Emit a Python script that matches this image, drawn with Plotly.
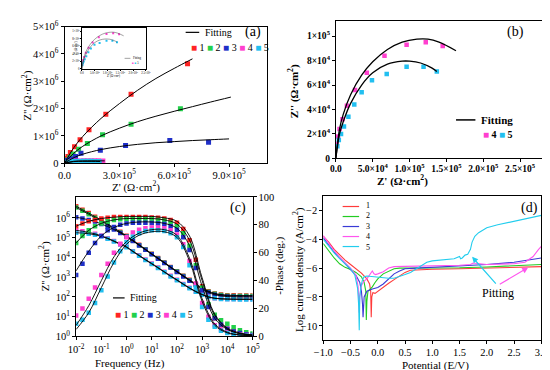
import plotly.graph_objects as go

W, H = 550, 370
FONT = "Liberation Serif"
RED, GREEN, BLUE, MAG, CYAN = "#ff2424", "#22d04a", "#1f2fc8", "#ff3fcf", "#22bff0"
LRED, LGREEN, LBLUE, LMAG, LCYAN = "#ff3b3b", "#22cc22", "#3a3ad6", "#ff55ee", "#22cdee"

# ---------------- (a) Nyquist ----------------
a1_x = [0.05e5, 0.12e5, 0.19e5, 0.32e5, 0.55e5, 0.85e5, 1.34e5, 2.26e5, 3.64e5, 6.73e5]
a1_y = [0.07e6, 0.17e6, 0.25e6, 0.39e6, 0.60e6, 0.86e6, 1.22e6, 1.79e6, 2.52e6, 3.64e6]
a2_x = [0.12e5, 0.29e5, 0.47e5, 0.77e5, 1.25e5, 2.08e5, 3.64e5, 6.34e5]
a2_y = [0.12e6, 0.22e6, 0.34e6, 0.51e6, 0.72e6, 1.04e6, 1.43e6, 1.99e6]
a3_x = [0.16e5, 0.33e5, 0.60e5, 0.90e5, 1.96e5, 3.34e5, 5.76e5, 7.88e5]
a3_y = [0.10e6, 0.16e6, 0.25e6, 0.36e6, 0.47e6, 0.65e6, 0.83e6, 0.77e6]
a4_x = [0.10e5, 0.25e5, 0.45e5, 0.65e5, 0.85e5, 1.05e5, 1.25e5, 1.45e5, 1.65e5, 1.85e5, 2.10e5]
a4_y = [0.03e6, 0.05e6, 0.07e6, 0.08e6, 0.085e6, 0.09e6, 0.09e6, 0.09e6, 0.09e6, 0.088e6, 0.085e6]
a5_x = [0.10e5, 0.30e5, 0.50e5, 0.70e5, 0.90e5, 1.10e5, 1.30e5, 1.50e5, 1.70e5, 1.90e5]
a5_y = [0.03e6, 0.05e6, 0.06e6, 0.065e6, 0.07e6, 0.07e6, 0.07e6, 0.068e6, 0.065e6, 0.06e6]
a1_fx = [0, 0.5e5, 1.0e5, 2.0e5, 3.0e5, 4.0e5, 5.0e5, 6.0e5, 7.0e5]
a1_fy = [0, 0.56e6, 0.98e6, 1.64e6, 2.18e6, 2.67e6, 3.10e6, 3.47e6, 3.82e6]
a2_fx = [0, 0.5e5, 1.0e5, 2.0e5, 3.0e5, 4.0e5, 5.0e5, 6.0e5, 7.0e5, 8.0e5, 9.1e5]
a2_fy = [0, 0.36e6, 0.62e6, 1.00e6, 1.28e6, 1.52e6, 1.72e6, 1.90e6, 2.07e6, 2.24e6, 2.42e6]
a3_fx = [0, 0.5e5, 1.0e5, 2.0e5, 3.0e5, 4.0e5, 5.0e5, 6.0e5, 7.0e5, 8.0e5, 9.0e5]
a3_fy = [0, 0.20e6, 0.33e6, 0.50e6, 0.61e6, 0.69e6, 0.75e6, 0.79e6, 0.83e6, 0.86e6, 0.89e6]
a4_fx = [0, 0.5e5, 1.0e5, 1.5e5, 2.2e5]
a4_fy = [0, 0.07e6, 0.085e6, 0.088e6, 0.085e6]
a5_fx = [0, 0.5e5, 1.0e5, 1.5e5, 1.95e5]
a5_fy = [0, 0.058e6, 0.068e6, 0.068e6, 0.062e6]
a_xticks = [0, 3e5, 6e5, 9e5]
a_xtext = ["0.0", "3.0×10<sup>5</sup>", "6.0×10<sup>5</sup>", "9.0×10<sup>5</sup>"]
a_yticks = [0, 1e6, 2e6, 3e6, 4e6, 5e6]
a_ytext = ["0", "1×10<sup>6</sup>", "2×10<sup>6</sup>", "3×10<sup>6</sup>", "4×10<sup>6</sup>", "5×10<sup>6</sup>"]

# ---------------- (b) Nyquist samples 4,5 ----------------
b4_x = [1e3, 3e3, 5e3, 9e3, 15e3, 26e3, 42e3, 66e3, 96e3, 122e3, 145e3]
b4_y = [12e3, 18e3, 24e3, 32e3, 43e3, 56e3, 70e3, 84e3, 93e3, 95e3, 92e3]
b5_x = [2e3, 4e3, 7e3, 11e3, 17e3, 25e3, 35e3, 49e3, 69e3, 96e3, 119e3, 137e3]
b5_y = [10e3, 15e3, 20e3, 26e3, 34e3, 44e3, 54e3, 64e3, 69e3, 75e3, 75e3, 71e3]
b4_fx = [0, 5e3, 10e3, 20e3, 35e3, 50e3, 70e3, 90e3, 110e3, 125e3, 140e3, 163e3]
b4_fy = [0, 24e3, 36e3, 52e3, 68e3, 79e3, 89e3, 95e3, 97.5e3, 97.5e3, 95e3, 88e3]
b5_fx = [0, 5e3, 10e3, 20e3, 35e3, 50e3, 70e3, 90e3, 100e3, 115e3, 130e3, 137e3]
b5_fy = [0, 20e3, 30e3, 45e3, 60e3, 70e3, 77e3, 79.5e3, 79.5e3, 78e3, 74e3, 71e3]
b_xticks = [0, 5e4, 1e5, 1.5e5, 2e5, 2.5e5]
b_xtext = ["0.0", "5.0×10<sup>4</sup>", "1.0×10<sup>5</sup>", "1.5×10<sup>5</sup>", "2.0×10<sup>5</sup>", "2.5×10<sup>5</sup>"]
b_yticks = [0, 2e4, 4e4, 6e4, 8e4, 1e5]
b_ytext = ["0", "2×10<sup>4</sup>", "4×10<sup>4</sup>", "6×10<sup>4</sup>", "8×10<sup>4</sup>", "1×10<sup>5</sup>"]

# ---------------- (c) Bode ----------------
freq = [0.01, 0.0178, 0.0316, 0.0562, 0.1, 0.178, 0.316, 0.562, 1, 1.78, 3.16, 5.62,
        10, 17.8, 31.6, 56.2, 100, 178, 316, 562, 1000, 1780, 3160, 5620,
        1e4, 1.78e4, 3.16e4, 5.62e4, 1e5]
z1 = [3.98e6, 2.63e6, 1.78e6, 1.17e6, 7.94e5, 5.01e5, 3.16e5, 2.0e5, 1.26e5, 7.59e4, 4.47e4, 2.63e4,
      1.55e4, 9.33e3, 5.62e3, 3.31e3, 2.0e3, 1.2e3, 741, 447, 282, 195, 151, 132, 123, 120, 117, 117, 117]
z2 = [3.4e6, 2.3e6, 1.55e6, 1.03e6, 6.9e5, 4.5e5, 2.9e5, 1.85e5, 1.17e5, 7.1e4, 4.2e4, 2.5e4,
      1.48e4, 8.9e3, 5.4e3, 3.2e3, 1.93e3, 1.16e3, 710, 430, 270, 185, 143, 124, 115, 112, 110, 110, 110]
z3 = [1.1e6, 9.5e5, 8.0e5, 6.6e5, 5.0e5, 3.7e5, 2.6e5, 1.75e5, 1.12e5, 6.9e4, 4.1e4, 2.45e4,
      1.45e4, 8.6e3, 5.2e3, 3.1e3, 1.85e3, 1.1e3, 670, 400, 250, 170, 130, 112, 104, 101, 100, 100, 100]
z4 = [2.34e5, 2.14e5, 1.86e5, 1.58e5, 1.26e5, 9.5e4, 6.9e4, 4.9e4, 3.47e4, 2.09e4, 1.29e4, 7.9e3,
      5.0e3, 3.09e3, 1.9e3, 1.17e3, 741, 457, 288, 191, 135, 102, 87, 81, 79, 78, 78, 78, 78]
z5 = [1.78e5, 1.72e5, 1.6e5, 1.42e5, 1.18e5, 9.0e4, 6.5e4, 4.6e4, 3.25e4, 1.98e4, 1.22e4, 7.5e3,
      4.7e3, 2.92e3, 1.8e3, 1.1e3, 700, 432, 272, 182, 130, 99, 85, 79, 77, 76, 75, 75, 75]
p1 = [79, 81, 82.5, 83.5, 84.5, 85, 85.5, 85.5, 85.5, 85.5, 85.5, 85.5, 85.3, 85, 84.5, 83.5,
      81.5, 77, 69, 55, 36, 22, 13, 8, 5.5, 4, 2.5, 1.5, 1]
p2 = [67, 72, 76, 79, 81, 82.5, 83.5, 84, 84, 84, 84, 84, 84, 83.5, 83, 81.5,
      79, 74, 65, 51, 35, 23, 15.5, 11.5, 9, 6.5, 4.5, 3, 2]
p3 = [44, 52, 60, 67, 72, 76, 78.5, 80, 81, 81.5, 81.5, 81.5, 81.3, 81, 80.5, 79,
      76.5, 71, 62, 49, 33, 21, 13, 8.5, 5.5, 3.5, 2.5, 1.5, 1]
p4 = [15, 20, 27, 35, 44, 52, 60, 66, 71, 74.5, 76.5, 77.5, 78, 78, 77.5, 76,
      73, 66, 54, 38, 24, 14, 8, 5, 3, 2, 1.5, 1, 0.5]
p5 = [9, 12, 17, 24, 33, 43, 53, 61, 67.5, 71.5, 74, 75.5, 76, 76, 75.5, 74,
      71, 64, 51, 35, 21, 12, 7, 4, 2.5, 1.5, 1, 0.7, 0.5]
ffit = [0.01, 0.0316, 0.1, 0.316, 1, 3.16, 10, 31.6, 100, 316, 1000, 3160, 1e4, 3.16e4, 1e5]
pf1 = [79, 82.5, 84.5, 85.5, 86, 86, 86, 85, 82.5, 72, 42, 16, 6, 2.5, 1]
pf2 = [67, 76, 81, 83.5, 84.5, 84.5, 84.5, 83.5, 80.5, 69, 40, 15, 5.5, 2, 1]
pf3 = [47, 61, 72, 78, 81, 82, 82, 81, 77.5, 65, 36, 13, 5, 2, 1]
pf4 = [8, 22, 40, 57, 68, 74, 76.5, 76.5, 72.5, 56, 27, 9, 3, 1, 0.5]
pf5 = [5, 17, 35, 53, 66, 72.5, 75, 75, 71, 54, 25, 8, 2.5, 1, 0.5]
c_xticks = [1e-2, 1e-1, 1, 10, 100, 1e3, 1e4, 1e5]
c_xtext = ["10<sup>-2</sup>", "10<sup>-1</sup>", "10<sup>0</sup>", "10<sup>1</sup>", "10<sup>2</sup>",
           "10<sup>3</sup>", "10<sup>4</sup>", "10<sup>5</sup>"]
c_yticks = [1, 10, 100, 1e3, 1e4, 1e5, 1e6]
c_ytext = ["10<sup>0</sup>", "10<sup>1</sup>", "10<sup>2</sup>", "10<sup>3</sup>", "10<sup>4</sup>",
           "10<sup>5</sup>", "10<sup>6</sup>"]

# ---------------- (d) polarization ----------------
d1_x = [-1.0, -0.9, -0.8, -0.7, -0.6, -0.5, -0.4, -0.3, -0.2, -0.15, -0.13, -0.12, -0.11, -0.09,
        -0.05, 0.0, 0.1, 0.2, 0.3, 0.4, 0.5, 0.6, 0.8, 1.0, 1.5, 2.0, 2.5, 3.0]
d1_y = [-3.8, -4.2, -4.7, -5.1, -5.45, -5.75, -6.05, -6.35, -6.75, -7.1, -7.6, -9.4, -8.0, -7.7,
        -7.75, -7.6, -7.3, -7.05, -6.8, -6.55, -6.3, -6.15, -6.1, -6.08, -6.05, -6.0, -5.95, -5.9]
d2_x = [-1.0, -0.9, -0.8, -0.7, -0.6, -0.5, -0.4, -0.3, -0.25, -0.22, -0.21, -0.2, -0.18, -0.15,
        -0.1, -0.05, 0.0, 0.1, 0.2, 0.3, 0.4, 0.6, 1.0, 1.5, 2.0, 2.5, 3.0]
d2_y = [-4.3, -4.8, -5.3, -5.7, -5.95, -6.1, -6.3, -6.6, -7.0, -7.6, -9.6, -8.3, -7.6, -7.5,
        -7.3, -7.0, -6.75, -6.4, -6.2, -6.05, -6.0, -6.0, -6.0, -5.98, -5.92, -5.85, -5.75]
d3_x = [-1.0, -0.9, -0.8, -0.7, -0.6, -0.5, -0.4, -0.33, -0.3, -0.28, -0.27, -0.25, -0.2, -0.1,
        0.0, 0.1, 0.2, 0.3, 0.4, 0.5, 0.7, 1.0, 1.5, 2.0, 2.5, 3.0]
d3_y = [-3.9, -4.4, -4.9, -5.3, -5.7, -6.05, -6.5, -7.0, -7.6, -8.5, -9.4, -8.0, -7.6, -7.45,
        -7.35, -7.1, -6.75, -6.4, -6.2, -6.05, -6.0, -5.95, -5.85, -5.75, -5.6, -5.3]
d4_x = [-1.0, -0.9, -0.8, -0.7, -0.6, -0.5, -0.4, -0.36, -0.34, -0.33, -0.3, -0.25, -0.2, -0.15,
        -0.12, -0.1, -0.07, -0.04, 0.0, 0.1, 0.2, 0.3, 0.5, 1.0, 1.5, 1.7, 1.75, 2.0, 2.5, 2.7,
        2.85, 2.95, 3.0]
d4_y = [-3.75, -4.3, -4.8, -5.25, -5.6, -6.0, -6.5, -7.3, -9.1, -7.9, -7.2, -6.9, -6.75, -6.45,
        -6.3, -6.2, -6.4, -6.45, -6.4, -6.25, -6.0, -5.9, -5.88, -5.85, -5.8, -5.75, -5.65, -5.75,
        -5.7, -5.6, -5.2, -4.7, -4.5]
d5_x = [-1.0, -0.9, -0.8, -0.7, -0.6, -0.5, -0.42, -0.37, -0.35, -0.34, -0.33, -0.31, -0.28, -0.25,
        -0.2, -0.1, 0.0, 0.1, 0.2, 0.3, 0.4, 0.5, 0.6, 0.7, 0.8, 0.9, 1.0, 1.2, 1.4, 1.5, 1.52,
        1.55, 1.6, 1.65, 1.7, 1.73, 1.78, 1.85, 2.0, 2.2, 2.4, 2.6, 2.8, 3.0]
d5_y = [-4.0, -4.5, -4.95, -5.35, -5.7, -6.05, -6.5, -7.4, -8.6, -10.3, -8.0, -7.3, -6.8, -6.6,
        -6.55, -6.6, -6.6, -6.65, -6.7, -6.7, -6.6, -6.45, -6.3, -6.05, -5.8, -5.6, -5.5, -5.4,
        -5.35, -5.2, -5.35, -5.3, -5.1, -5.05, -4.7, -4.2, -3.8, -3.55, -3.2, -3.0, -2.85, -2.65,
        -2.5, -2.35]
d_yticks = [-10, -8, -6, -4, -2]
d_labels = ["1", "2", "3", "4", "5"]

fig = go.Figure()


def pts(x, y, color, xa, ya, size=5):
    fig.add_trace(go.Scatter(x=x, y=y, mode="markers", xaxis=xa, yaxis=ya, showlegend=False,
                             hoverinfo="skip",
                             marker=dict(symbol="square", size=size, color=color, line=dict(width=0))))


def fitline(x, y, xa, ya, w=1.1, color="black"):
    fig.add_trace(go.Scatter(x=x, y=y, mode="lines", xaxis=xa, yaxis=ya, showlegend=False,
                             hoverinfo="skip", line=dict(color=color, width=w, shape="spline")))


# (a)
for x, y, c in [(a1_x, a1_y, RED), (a2_x, a2_y, GREEN), (a3_x, a3_y, BLUE), (a4_x, a4_y, MAG), (a5_x, a5_y, CYAN)]:
    pts(x, y, c, "x", "y", 5)
for x, y in [(a1_fx, a1_fy), (a2_fx, a2_fy), (a3_fx, a3_fy), (a4_fx, a4_fy), (a5_fx, a5_fy)]:
    fitline(x, y, "x", "y", 1)
# inset
pts(b4_x, b4_y, MAG, "x5", "y5", 2)
pts(b5_x, b5_y, CYAN, "x5", "y5", 2)
fitline(b4_fx, b4_fy, "x5", "y5", 0.5, "#444")
fitline(b5_fx, b5_fy, "x5", "y5", 0.5, "#444")
# (b)
pts(b4_x, b4_y, MAG, "x2", "y2", 4.5)
pts(b5_x, b5_y, CYAN, "x2", "y2", 4.5)
fitline(b4_fx, b4_fy, "x2", "y2", 1.3)
fitline(b5_fx, b5_fy, "x2", "y2", 1.3)
# (c)
for z, c in [(z1, RED), (z2, GREEN), (z3, BLUE), (z4, MAG), (z5, CYAN)]:
    pts(freq, z, c, "x3", "y3", 4.5)
for p, c in [(p1, RED), (p2, GREEN), (p3, BLUE), (p4, MAG), (p5, CYAN)]:
    pts(freq, p, c, "x3", "y6", 4.5)
for z in [z1, z2, z3, z4, z5]:
    fitline(freq, z, "x3", "y3", 0.9)
for p in [pf1, pf2, pf3, pf4, pf5]:
    fitline(ffit, p, "x3", "y6", 0.9)
# (d)
for x, y, c in [(d1_x, d1_y, LRED), (d2_x, d2_y, LGREEN), (d3_x, d3_y, LBLUE), (d4_x, d4_y, LMAG), (d5_x, d5_y, LCYAN)]:
    fig.add_trace(go.Scatter(x=x, y=y, mode="lines", xaxis="x4", yaxis="y4", showlegend=False,
                             hoverinfo="skip", line=dict(color=c, width=1.1)))


def px(v):
    return v / W


def py(v):
    return 1 - v / H


TS = 10.5


def axis(dom, rng, **kw):
    d = dict(domain=dom, range=rng, showline=True, linecolor="black", linewidth=1, mirror=True,
             ticks="outside", ticklen=3, tickwidth=1, tickcolor="black", showgrid=False,
             zeroline=False, tickfont=dict(family=FONT, size=TS, color="black"))
    d.update(kw)
    return d


TFB = dict(family=FONT, size=9.5, color="black", weight="bold")
TINY = dict(family=FONT, size=3, color="black")

fig.update_layout(
    width=W, height=H, margin=dict(l=0, r=0, t=0, b=0), paper_bgcolor="white",
    plot_bgcolor="white", showlegend=False, font=dict(family=FONT, color="black"),
    xaxis=axis([px(48), px(257)], [0, 1.108e6], anchor="y", tickvals=a_xticks, ticktext=a_xtext,
               ticklabelstandoff=-1),
    yaxis=axis([py(153), py(11)], [0, 5e6], anchor="x", tickvals=a_yticks, ticktext=a_ytext),
    xaxis2=axis([px(328), px(547)], [0, 2.88e5], anchor="y2", tickvals=b_xticks, ticktext=b_xtext,
                tickfont=TFB, ticklabelstandoff=-2),
    yaxis2=axis([py(148), py(5)], [0, 1.125e5], anchor="x2", tickvals=b_yticks, ticktext=b_ytext,
                tickfont=TFB),
    xaxis3=axis([px(60), px(242)], [-2, 5], anchor="y3", type="log", tickvals=c_xticks,
                ticktext=c_xtext),
    yaxis3=axis([py(333), py(188)], [0, 7.07], anchor="x3", type="log", tickvals=c_yticks,
                ticktext=c_ytext, mirror=False),
    yaxis6=axis([py(333), py(188)], [0, 100], anchor="x3", overlaying="y3", side="right",
                tickvals=[0, 20, 40, 60, 80, 100], mirror=False),
    xaxis4=axis([px(315), px(540)], [-1, 3], anchor="y4", dtick=0.5, tick0=-1, tickformat=".1f",
                ticklabelstandoff=-1),
    yaxis4=axis([py(337), py(187)], [-11, -1], anchor="x4", tickvals=d_yticks),
    xaxis5=axis([px(66), px(132)], [0, 2.5e5], anchor="y5", tickvals=b_xticks, ticktext=b_xtext,
                ticklen=1, tickwidth=0.5, linewidth=0.6, tickfont=TINY),
    yaxis5=axis([py(55), py(12)], [0, 1.1e5], anchor="x5", tickvals=b_yticks, ticktext=b_ytext,
                ticklen=1, tickwidth=0.5, linewidth=0.6, tickfont=TINY),
)

ann = []
shapes = []


def text(x, y, s, size=11, angle=0, weight="normal", xanchor="center", color="black"):
    ann.append(dict(x=px(x), y=py(y), xref="paper", yref="paper", text=s, showarrow=False,
                    textangle=angle, xanchor=xanchor, yanchor="middle",
                    font=dict(family=FONT, size=size, color=color, weight=weight)))


def hline(x0, x1, y, color="black", w=1.2):
    shapes.append(dict(type="line", xref="paper", yref="paper", x0=px(x0), x1=px(x1), y0=py(y),
                       y1=py(y), line=dict(color=color, width=w)))


sq = "■"
# titles
text(10, 83, "Z'' (Ω·cm<sup>2</sup>)", 11, -90)
text(122, 177, "Z' (Ω·cm<sup>2</sup>)", 11)
text(284, 78, "Z'' (Ω·cm<sup>2</sup>)", 11, -90, "bold")
text(397, 171, "Z' (Ω·cm<sup>2</sup>)", 11, 0, "bold")
text(27, 260, "Z'' (Ω·cm<sup>2</sup>)", 11, -90)
text(270, 260, "-Phase (deg.)", 11, -90)
text(116, 361, "Frequency (Hz)", 11)
text(289, 264, "Log current density (A/cm<sup>2</sup>)", 11, -90)
text(431, 363, "Potential (E/V)", 11)
# panel labels
text(243, 17, "(a)", 14)
text(513, 17, "(b)", 14)
text(227, 200, "(c)", 14)
text(528, 200, "(d)", 14)
# (a) legend
hline(173, 187, 17)
text(191, 17, "Fitting", 10, xanchor="left")
text(176, 33, f'<span style="color:{RED}">{sq}</span> 1 <span style="color:{GREEN}">{sq}</span> 2 '
     f'<span style="color:{BLUE}">{sq}</span> 3 <span style="color:{MAG}">{sq}</span> 4 '
     f'<span style="color:{CYAN}">{sq}</span> 5', 10, xanchor="left")
# inset texts
text(99, 62, "Z' (Ω·cm<sup>2</sup>)", 3)
text(59, 33, "Z'' (Ω·cm<sup>2</sup>)", 3, -90)
hline(110, 116, 44, "#444", 0.5)
text(117, 44, "Fitting", 3, xanchor="left")
text(116, 49, f'<span style="color:{MAG}">{sq}</span> <span style="color:{CYAN}">{sq}</span> 5', 3, xanchor="left")
# (b) legend
hline(452, 472, 108, "black", 1.5)
text(476, 108, "Fitting", 11, xanchor="left", weight="bold")
text(478, 123, f'<span style="color:{MAG}">{sq}</span> 4 <span style="color:{CYAN}">{sq}</span> 5',
     10, xanchor="left", weight="bold")
# (c) legend
hline(98, 110, 293)
text(113, 293, "Fitting", 10, xanchor="left")
text(98, 310, f'<span style="color:{RED}">{sq}</span> 1 <span style="color:{GREEN}">{sq}</span> 2 '
     f'<span style="color:{BLUE}">{sq}</span> 3 <span style="color:{MAG}">{sq}</span> 4 '
     f'<span style="color:{CYAN}">{sq}</span> 5', 10, xanchor="left")
# (d) legend: one multi-line label block, coloured line samples beside it
ROW = 10.4
for i, c in enumerate([LRED, LGREEN, LBLUE, LMAG, LCYAN]):
    hline(335, 352, 198 + ROW * i, c, 1.2)
text(357, 198 + 2 * ROW, "<br>".join(d_labels), 8, xanchor="left")
# Pitting
ann.append(dict(x=2.2, y=-7.7, xref="x4", yref="y4", text="Pitting", showarrow=False,
                font=dict(family=FONT, size=12, color="black")))
ann.append(dict(x=1.73, y=-5.22, ax=2.19, ay=-7.18, xref="x4", yref="y4", axref="x4", ayref="y4",
                text="", showarrow=True, arrowhead=2, arrowsize=1, arrowwidth=1.2, arrowcolor=LCYAN))
ann.append(dict(x=2.76, y=-5.96, ax=2.21, ay=-7.18, xref="x4", yref="y4", axref="x4", ayref="y4",
                text="", showarrow=True, arrowhead=2, arrowsize=1, arrowwidth=1.2, arrowcolor=LMAG))

fig.update_layout(annotations=ann, shapes=shapes)
fig.write_html("out.html")
